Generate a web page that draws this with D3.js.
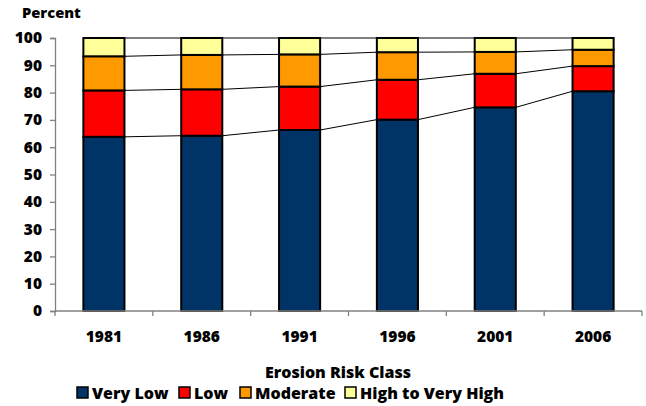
<!DOCTYPE html>
<html><head><meta charset="utf-8">
<script src="https://cdn.jsdelivr.net/npm/d3@7"></script>
<style>body{margin:0;background:#fff;} svg{display:block;} text{font-family:"Open Sans", Lato, sans-serif;font-weight:800;fill:#000;}</style>
</head><body>
<svg id="c" width="646" height="406"></svg>
<script>
const years = ["1981","1986","1991","1996","2001","2006"];
const seriesNames = ["Very Low","Low","Moderate","High to Very High"];
const veryLow = [63.8, 64.2, 66.3, 70.1, 74.6, 80.5];
const low = [17.0, 17.0, 15.9, 14.6, 12.3, 9.2];
const moderate = [12.5, 12.6, 11.8, 10.1, 8.0, 6.0];
const high = [6.7, 6.2, 6.0, 5.2, 5.1, 4.3];
const yTicks = [0,10,20,30,40,50,60,70,80,90,100];
const colors = ["#003366","#FF0000","#FF9900","#FFFF99"];

const svg = d3.select("#c");
const mLeft = 55, mRight = 642, mTop = 38, mBottom = 311;
const x = d3.scaleBand().domain(years).range([mLeft, mRight]).paddingInner(0.58).paddingOuter(0.29);
const xAxisScale = d3.scaleBand().domain(years).range([mLeft, mRight]);
const y = d3.scaleLinear().domain([0,100]).range([mBottom, mTop]);

const rows = years.map((yr,i)=>({year:yr, "Very Low":veryLow[i], "Low":low[i], "Moderate":moderate[i], "High to Very High":high[i]}));
const stacked = d3.stack().keys(seriesNames)(rows);

const lineG = svg.append("g");
stacked.forEach(s=>{
  for(let i=0;i<years.length-1;i++){
    lineG.append("line")
      .attr("x1", x(years[i])+x.bandwidth()).attr("x2", x(years[i+1]))
      .attr("y1", y(s[i][1])).attr("y2", y(s[i+1][1]))
      .attr("stroke","#000").attr("stroke-width",1);
  }
});

stacked.forEach((s,si)=>{
  svg.append("g").selectAll("rect").data(s).join("rect")
    .attr("x", (d,i)=>x(years[i]))
    .attr("width", x.bandwidth())
    .attr("y", d=>y(d[1]))
    .attr("height", d=>y(d[0])-y(d[1]))
    .attr("fill", colors[si])
    .attr("stroke","#000").attr("stroke-width",2);
});

const FF = "'Open Sans'";
const yAxis = svg.append("g").attr("transform",`translate(${mLeft},0)`)
  .call(d3.axisLeft(y).tickValues(yTicks).tickSize(5).tickPadding(8));
yAxis.select(".domain").attr("stroke","#808080").attr("stroke-width",1.3);
yAxis.selectAll(".tick line").attr("stroke","#808080").attr("stroke-width",1.3);
yAxis.selectAll("text").style("font-size","15.5px").style("font-family",FF).style("font-weight","800");

const xAxis = svg.append("g").attr("transform",`translate(0,${mBottom})`)
  .call(d3.axisBottom(xAxisScale).tickSize(0).tickPadding(20));
xAxis.select(".domain").attr("stroke","#808080").attr("stroke-width",1.3).attr("d",`M${mLeft},0H${mRight}`);
xAxis.selectAll("text").style("font-size","15.5px").style("font-family",FF).style("font-weight","800");
xAxis.append("g").selectAll("line").data(years.concat(["end"])).join("line")
  .attr("x1",(d,i)=> i<years.length ? xAxisScale(d) : mRight)
  .attr("x2",(d,i)=> i<years.length ? xAxisScale(d) : mRight)
  .attr("y1",0).attr("y2",5).attr("stroke","#808080").attr("stroke-width",1.3);

svg.append("text").attr("x",22).attr("y",18).style("font-size","14.7px").text("Percent");

svg.append("text").attr("x",338).attr("y",378).attr("text-anchor","middle").style("font-size","16px").text("Erosion Risk Class");
const legX = [77, 179, 240, 345];
const lg = svg.append("g");
seriesNames.forEach((n,i)=>{
  lg.append("rect").attr("x",legX[i]).attr("y",387).attr("width",11).attr("height",11)
    .attr("fill",colors[i]).attr("stroke","#000").attr("stroke-width",1.5);
  lg.append("text").attr("x",legX[i]+15).attr("y",398.5).style("font-size","16px").text(n);
});
</script>
</body></html>
